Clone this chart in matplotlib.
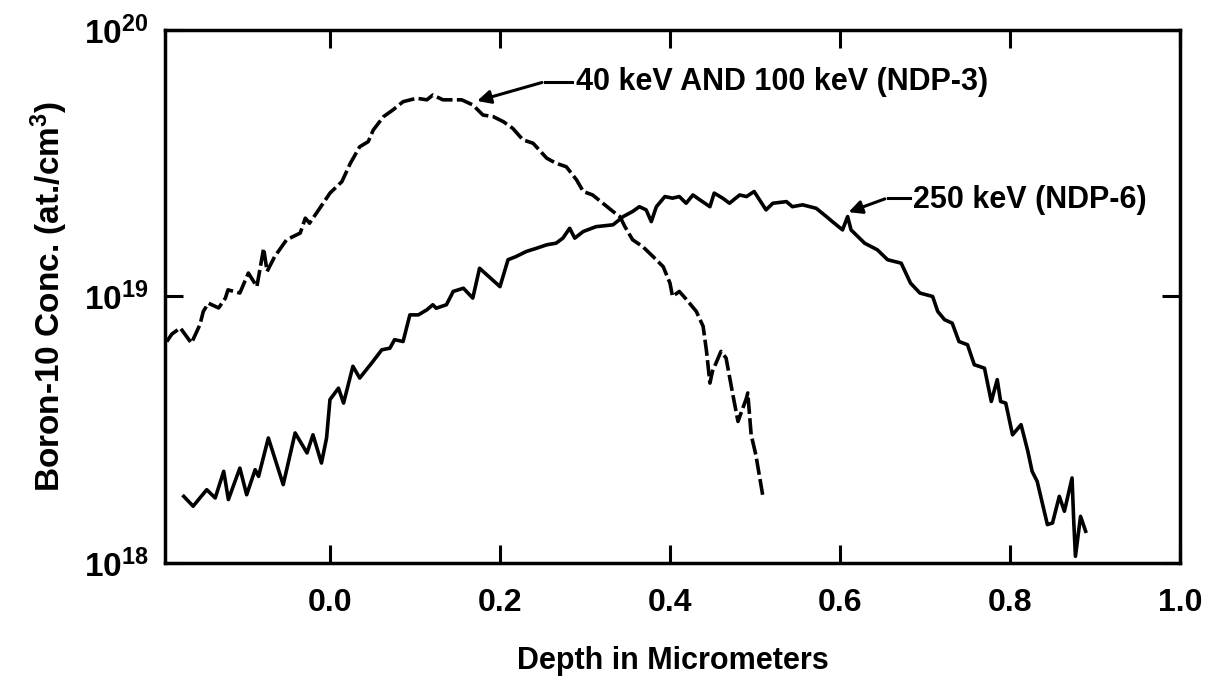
import numpy as np
import matplotlib
matplotlib.use("Agg")
import matplotlib.pyplot as plt
from matplotlib.ticker import FixedLocator, NullLocator, FuncFormatter

plt.rcParams['font.family'] = ['Liberation Sans', 'DejaVu Sans']
plt.rcParams['font.weight'] = 'bold'
plt.rcParams['mathtext.fontset'] = 'custom'
plt.rcParams['mathtext.rm'] = 'Liberation Sans:bold'
plt.rcParams['mathtext.bf'] = 'Liberation Sans:bold'
plt.rcParams['mathtext.it'] = 'Liberation Sans:bold'

# NDP-3 (40 keV and 100 keV), dashed curve: depth (um), log10 concentration
ndp3_depth = [-0.192, -0.186, -0.176, -0.163, -0.153, -0.149, -0.143, -0.131, -0.123, -0.120,
              -0.106, -0.096, -0.086, -0.078, -0.074, -0.065, -0.051, -0.035, -0.029, -0.024,
              -0.008, 0.000, 0.014, 0.024, 0.035, 0.045, 0.051, 0.063, 0.074, 0.086,
              0.102, 0.114, 0.121, 0.133, 0.145, 0.155, 0.168, 0.180, 0.192, 0.204,
              0.215, 0.227, 0.239, 0.255, 0.266, 0.278, 0.290, 0.298, 0.309, 0.321,
              0.333, 0.341, 0.347, 0.356, 0.368, 0.380, 0.392, 0.400, 0.403, 0.411,
              0.419, 0.431, 0.439, 0.443, 0.447, 0.450, 0.460, 0.466, 0.474, 0.480,
              0.490, 0.4915, 0.4955, 0.501, 0.509]
ndp3_log = [18.831, 18.859, 18.882, 18.825, 18.894, 18.944, 18.975, 18.957, 18.994, 19.025,
            19.013, 19.088, 19.037, 19.181, 19.094, 19.150, 19.213, 19.238, 19.294, 19.275,
            19.350, 19.388, 19.431, 19.500, 19.562, 19.581, 19.625, 19.675, 19.700, 19.731,
            19.744, 19.738, 19.756, 19.738, 19.738, 19.738, 19.719, 19.681, 19.675, 19.656,
            19.631, 19.588, 19.575, 19.519, 19.500, 19.487, 19.438, 19.394, 19.381, 19.350,
            19.319, 19.300, 19.262, 19.213, 19.187, 19.150, 19.112, 19.050, 19.000, 19.019,
            18.990, 18.944, 18.888, 18.794, 18.675, 18.719, 18.794, 18.769, 18.631, 18.531,
            18.619, 18.638, 18.481, 18.406, 18.256]

# NDP-6 (250 keV), solid curve
ndp6_depth = [-0.172, -0.161, -0.145, -0.135, -0.125, -0.1195, -0.106, -0.098, -0.088, -0.084,
              -0.0725, -0.055, -0.041, -0.027, -0.020, -0.010, -0.004, 0.000, 0.010, 0.016,
              0.027, 0.035, 0.049, 0.061, 0.0705, 0.076, 0.086, 0.094, 0.104, 0.114,
              0.121, 0.125, 0.137, 0.145, 0.157, 0.168, 0.176, 0.200, 0.2095, 0.219,
              0.231, 0.243, 0.255, 0.266, 0.274, 0.282, 0.288, 0.298, 0.313, 0.333,
              0.345, 0.356, 0.364, 0.372, 0.378, 0.384, 0.394, 0.403, 0.411, 0.419,
              0.427, 0.435, 0.447, 0.452, 0.462, 0.470, 0.482, 0.490, 0.499, 0.513,
              0.521, 0.537, 0.544, 0.556, 0.572, 0.584, 0.591, 0.603, 0.609, 0.613,
              0.629, 0.644, 0.656, 0.672, 0.683, 0.694, 0.709, 0.715, 0.723, 0.732,
              0.740, 0.750, 0.758, 0.770, 0.778, 0.785, 0.789, 0.795, 0.803, 0.813,
              0.821, 0.826, 0.832, 0.844, 0.850, 0.858, 0.864, 0.873, 0.875, 0.877,
              0.883, 0.889]
ndp6_log = [18.250, 18.213, 18.275, 18.244, 18.344, 18.238, 18.356, 18.256, 18.350, 18.325,
            18.469, 18.294, 18.488, 18.413, 18.481, 18.375, 18.469, 18.613, 18.656, 18.600,
            18.738, 18.694, 18.750, 18.800, 18.806, 18.838, 18.831, 18.931, 18.931, 18.950,
            18.969, 18.956, 18.969, 19.019, 19.031, 18.994, 19.106, 19.037, 19.138, 19.150,
            19.169, 19.181, 19.194, 19.200, 19.219, 19.256, 19.219, 19.244, 19.262, 19.269,
            19.300, 19.319, 19.337, 19.325, 19.281, 19.337, 19.375, 19.369, 19.375, 19.350,
            19.381, 19.363, 19.337, 19.388, 19.369, 19.350, 19.381, 19.375, 19.394, 19.325,
            19.350, 19.356, 19.337, 19.344, 19.331, 19.300, 19.281, 19.250, 19.300, 19.250,
            19.200, 19.175, 19.138, 19.125, 19.050, 19.013, 19.000, 18.944, 18.913, 18.900,
            18.831, 18.819, 18.744, 18.731, 18.606, 18.688, 18.606, 18.600, 18.481, 18.519,
            18.419, 18.344, 18.306, 18.144, 18.150, 18.250, 18.194, 18.319, 18.156, 18.025,
            18.175, 18.119]

x_ticks = [0.0, 0.2, 0.4, 0.6, 0.8, 1.0]
x_labels = ['0.0', '0.2', '0.4', '0.6', '0.8', '1.0']
y_ticks = [1e18, 1e19, 1e20]

ndp3_conc = 10 ** np.array(ndp3_log)
ndp6_conc = 10 ** np.array(ndp6_log)

fig = plt.figure(figsize=(12.11, 6.76), dpi=100)
ax = fig.add_axes([0.1363, 0.1672, 0.8381, 0.7884])

ax.plot(ndp3_depth, ndp3_conc, color='black', lw=2.6, dashes=(4.5, 1.2))
ax.plot(ndp6_depth, ndp6_conc, color='black', lw=2.6, solid_joinstyle='round')

ax.set_yscale('log')
ax.set_xlim(-0.194, 1.0)
ax.set_ylim(1e18, 1e20)

ax.xaxis.set_major_locator(FixedLocator(x_ticks))
ax.set_xticklabels(x_labels)
ax.yaxis.set_major_locator(FixedLocator(y_ticks))
ax.yaxis.set_minor_locator(NullLocator())
ax.yaxis.set_major_formatter(FuncFormatter(lambda v, p: r'$\mathbf{10^{%d}}$' % round(np.log10(v))))

ax.tick_params(axis='both', which='major', direction='in', length=13, width=2.2,
               top=True, right=True)
ax.tick_params(axis='x', labelsize=23, pad=18)
ax.tick_params(axis='y', pad=12, labelsize=24)
for lab in ax.get_xticklabels():
    lab.set_fontweight('bold')
for sp in ax.spines.values():
    sp.set_linewidth(2.5)

ax.set_xlabel('Depth in Micrometers', fontsize=22, fontweight='bold', labelpad=20)
ax.set_ylabel(r'Boron-10 Conc. (at./cm$^{\mathbf{3}}$)', fontsize=24, fontweight='bold', labelpad=10)

# annotations with bent leader arrows
ax.plot([0.2526, 0.285], [10 ** 19.806, 10 ** 19.806], color='black', lw=2.2)
ax.annotate('', xy=(0.170, 10 ** 19.731), xytext=(0.2526, 10 ** 19.806),
            arrowprops=dict(arrowstyle='-|>', color='black', lw=2.2, mutation_scale=20))
ax.text(0.290, 10 ** 19.806, '40 keV AND 100 keV (NDP-3)', fontsize=22, fontweight='bold',
        va='center', ha='left')

ax.plot([0.656, 0.682], [10 ** 19.370, 10 ** 19.370], color='black', lw=2.2)
ax.annotate('', xy=(0.607, 10 ** 19.313), xytext=(0.656, 10 ** 19.370),
            arrowprops=dict(arrowstyle='-|>', color='black', lw=2.2, mutation_scale=20))
ax.text(0.686, 10 ** 19.363, '250 keV (NDP-6)', fontsize=22, fontweight='bold',
        va='center', ha='left')

fig.savefig('out.png', dpi=100)
